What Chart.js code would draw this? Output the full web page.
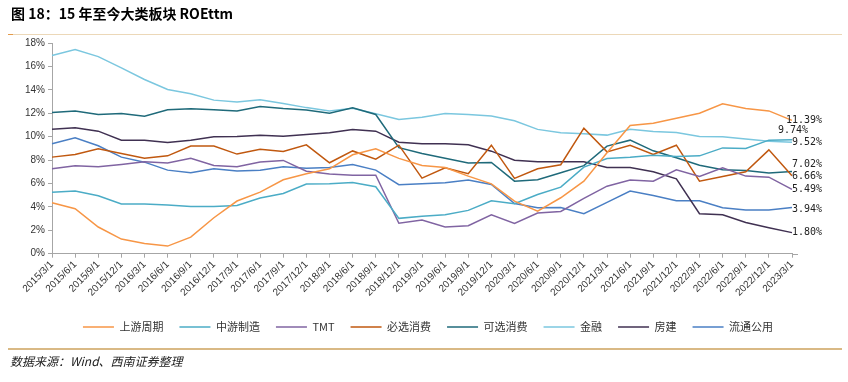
<!DOCTYPE html>
<html><head><meta charset="utf-8">
<script src="https://cdn.jsdelivr.net/npm/chart.js@4/dist/chart.umd.min.js"></script>
<style>
html,body{margin:0;padding:0;background:#fff;}
#wrap{position:relative;width:848px;height:382px;overflow:hidden;background:#fff;}
#c{position:absolute;left:0;top:0;}
#title{position:absolute;left:11px;top:3px;font:bold 14px "Noto Sans CJK SC","Liberation Sans",sans-serif;color:#000;white-space:nowrap;}
#tline{position:absolute;left:8px;top:34px;width:834px;height:1px;background:#ecd8b8;}
#tmark{position:absolute;left:8px;top:34px;width:5px;height:1px;background:#e39a4a;}
#bline{position:absolute;left:8px;top:348px;width:834px;height:2px;background:#d9b985;}
#src{position:absolute;left:10px;top:352px;font:italic 12px "Noto Sans CJK SC",sans-serif;color:#222;white-space:nowrap;}
</style></head>
<body><div id="wrap">
<canvas id="c" width="848" height="382"></canvas>
<div id="title">图 18：15 年至今大类板块 ROEttm</div>
<div id="tline"></div><div id="tmark"></div>
<div id="bline"></div>
<div id="src">数据来源：Wind、西南证券整理</div>
</div>
<script>
const quarterLabels = ['2015/3/1','2015/6/1','2015/9/1','2015/12/1','2016/3/1','2016/6/1','2016/9/1','2016/12/1','2017/3/1','2017/6/1','2017/9/1','2017/12/1','2018/3/1','2018/6/1','2018/9/1','2018/12/1','2019/3/1','2019/6/1','2019/9/1','2019/12/1','2020/3/1','2020/6/1','2020/9/1','2020/12/1','2021/3/1','2021/6/1','2021/9/1','2021/12/1','2022/3/1','2022/6/1','2022/9/1','2022/12/1','2023/3/1'];
const yTicks = [0,2,4,6,8,10,12,14,16,18];
const seriesNames = ['上游周期','中游制造','TMT','必选消费','可选消费','金融','房建','流通公用'];
const upstream = [4.35,3.84,2.28,1.25,0.88,0.65,1.42,3.07,4.5,5.26,6.32,6.83,7.25,8.45,8.96,8.14,7.54,7.37,6.63,5.97,4.49,3.64,4.78,6.2,8.62,10.95,11.15,11.58,12.0,12.8,12.4,12.2,11.39];
const midstream = [5.26,5.35,4.95,4.24,4.24,4.15,4.04,4.04,4.12,4.75,5.15,5.95,5.97,6.09,5.72,3.02,3.2,3.33,3.7,4.52,4.27,5.06,5.69,7.4,8.13,8.25,8.42,8.3,8.36,9.04,8.99,9.7,9.74];
const tmt = [7.25,7.51,7.42,7.62,7.85,7.74,8.16,7.54,7.42,7.84,7.97,7.05,6.8,6.71,6.71,2.6,2.87,2.28,2.39,3.33,2.59,3.47,3.61,4.72,5.77,6.29,6.2,7.17,6.6,7.34,6.63,6.54,5.49];
const staples = [8.25,8.48,8.96,8.56,8.16,8.36,9.2,9.2,8.51,8.92,8.74,9.3,7.77,8.78,8.08,9.27,6.46,7.34,6.83,9.27,6.43,7.25,7.6,10.72,8.7,9.27,8.48,9.27,6.2,6.6,7.0,8.87,6.66];
const discretionary = [12.06,12.18,11.89,11.98,11.75,12.29,12.38,12.29,12.2,12.57,12.4,12.28,12.0,12.46,11.89,9.06,8.56,8.16,7.74,7.8,6.2,6.31,6.92,7.52,9.19,9.7,8.79,8.19,7.55,7.18,7.11,6.9,7.02];
const finance = [16.93,17.44,16.84,15.87,14.88,14.03,13.66,13.12,12.95,13.15,12.83,12.48,12.2,12.42,11.96,11.46,11.66,11.98,11.9,11.76,11.35,10.62,10.34,10.24,10.13,10.64,10.44,10.36,10.01,10.0,9.8,9.6,9.52];
const realEstate = [10.64,10.75,10.47,9.7,9.7,9.5,9.7,9.99,10.02,10.12,10.04,10.19,10.33,10.6,10.47,9.53,9.39,9.39,9.3,8.76,7.99,7.85,7.85,7.85,7.37,7.37,7.0,6.4,3.41,3.33,2.67,2.22,1.80];
const utilities = [9.39,9.9,9.22,8.25,7.82,7.14,6.91,7.25,7.06,7.12,7.42,7.3,7.37,7.62,7.14,5.89,5.97,6.06,6.29,5.92,4.29,3.92,3.95,3.41,4.38,5.35,4.98,4.52,4.52,3.92,3.73,3.73,3.94];
const seriesValues = [upstream,midstream,tmt,staples,discretionary,finance,realEstate,utilities];
const seriesColors = ['#f79646','#4bacc6','#8064a2','#c0580f','#1f6a7a','#7bc7df','#403152','#4a7fc4'];
const endLabelDx = [30,16,30,30,30,30,30,30];
const endLabelDy = [0,-9,0,1,-7,0,0,2];

const endLabels = {
  id:'endLabels',
  afterLayout(chart){
    const lg = chart.legend;
    if (lg) { lg.left = 4; lg.right = 852; }
  },
  afterDatasetsDraw(chart){
    const ctx = chart.ctx, xs = chart.scales.x, ys = chart.scales.y, ca = chart.chartArea;
    ctx.save();
    ctx.strokeStyle = '#a6a6a6'; ctx.lineWidth = 1;
    ctx.beginPath(); ctx.moveTo(ca.right, Math.round(ca.bottom)+0.5); ctx.lineTo(ca.right+6, Math.round(ca.bottom)+0.5); ctx.stroke();
    ctx.font = '10px "DejaVu Sans Mono", monospace';
    ctx.fillStyle = '#222'; ctx.textAlign = 'right'; ctx.textBaseline = 'middle';
    seriesValues.forEach((vals,i)=>{
      const n = vals.length-1, v = vals[n];
      ctx.fillText(v.toFixed(2)+'%', xs.getPixelForValue(n)+endLabelDx[i], ys.getPixelForValue(v)+endLabelDy[i]);
    });
    ctx.restore();
  }
};

new Chart(document.getElementById('c'), {
  type:'line',
  data:{
    labels: quarterLabels,
    datasets: seriesNames.map((n,i)=>({label:n, data:seriesValues[i], borderColor:seriesColors[i], backgroundColor:seriesColors[i], borderWidth:1.5, pointRadius:0, tension:0, fill:false}))
  },
  options:{
    responsive:false, animation:false, devicePixelRatio:1,
    layout:{padding:{left:0,right:56,top:43,bottom:39.5}},
    plugins:{
      legend:{position:'bottom', labels:{usePointStyle:true, pointStyle:'line', pointStyleWidth:31, boxWidth:31, padding:16, color:'#333', font:{size:11, family:'"Noto Sans CJK SC", sans-serif'}}},
      tooltip:{enabled:false}
    },
    scales:{
      x:{offset:false,
         grid:{display:true, drawOnChartArea:false, drawTicks:true, tickLength:4, color:'#a6a6a6'},
         border:{color:'#a6a6a6'},
         ticks:{autoSkip:false, maxRotation:45, minRotation:45, padding:1, color:'#333', font:{size:10, family:'"Liberation Sans", Arial, sans-serif'}},
         afterFit:s=>{s.height=51.8;}},
      y:{min:0, max:18,
         afterBuildTicks:s=>{s.ticks = yTicks.map(v=>({value:v}));},
         grid:{display:true, drawOnChartArea:false, drawTicks:true, tickLength:4, color:'#a6a6a6'},
         border:{color:'#a6a6a6'},
         ticks:{padding:3, color:'#333', font:{size:10, family:'"Liberation Sans", Arial, sans-serif'}, callback:v=>v+'%'},
         afterFit:s=>{s.width=52;}}
    }
  },
  plugins:[endLabels]
});
</script>
</body></html>
